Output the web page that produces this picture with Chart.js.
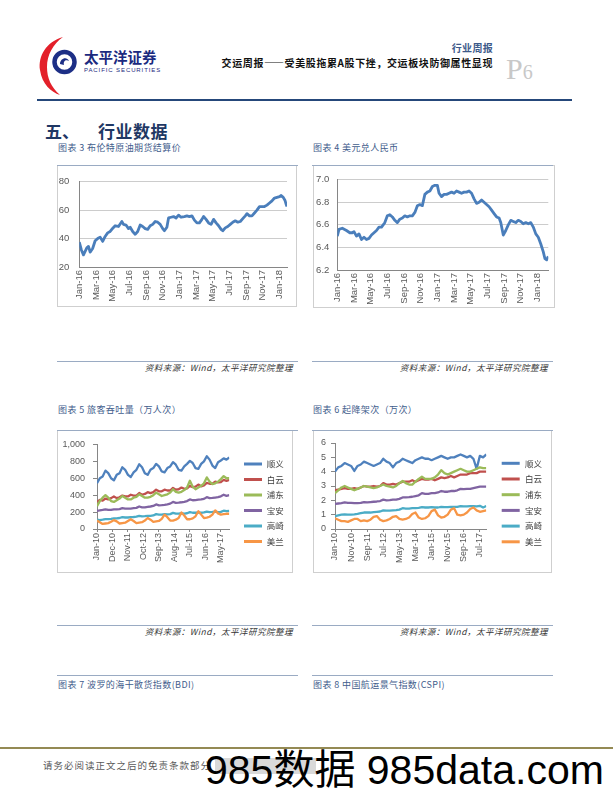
<!DOCTYPE html>
<html lang="zh-CN">
<head>
<meta charset="utf-8">
<title>交运周报 P6</title>
<script src="https://cdn.jsdelivr.net/npm/chart.js@4.4.1/dist/chart.umd.min.js"></script>
<style>
  html, body { margin: 0; padding: 0; background: #fff; }
  body { position: relative; width: 613px; height: 793px; overflow: hidden; font-family: "Noto Sans CJK SC", sans-serif; }
  .t { position: absolute; white-space: nowrap; line-height: 1; }
  .rule { position: absolute; height: 1px; background: #9aabc3; }
  .box { position: absolute; border: 1px solid #cfcfcf; box-sizing: border-box; }
  canvas { position: absolute; }
  .cap { font-size: 9px; color: #3f5d8c; letter-spacing: 0.4px; }
  .src { font-size: 8.5px; color: #333; font-style: italic; letter-spacing: 0.5px; }
</style>
</head>
<body>

<!-- header -->
<svg style="position:absolute;left:36px;top:34px" width="44" height="64" viewBox="0 0 44 64">
  <path d="M27 3 C10 8 2 22 4 36 C6 50 15 58 24 61 C15 53 11 44 11 33 C11 21 17 10 27 3 Z" fill="#e3202a"/>
  <circle cx="28.5" cy="28" r="10" fill="none" stroke="#1d2f86" stroke-width="4.5"/>
  <path d="M24 30 C24 24 31 22 33 27 C30 25 27 27 28 31 Z" fill="#1d2f86"/>
</svg>
<div class="t" style="left:84px;top:50px;font-size:14.5px;font-weight:bold;color:#1b2a80;">太平洋证券</div>
<div class="t" style="left:84px;top:67px;font-size:6px;letter-spacing:0.9px;color:#1b2a80;font-family:'Liberation Sans',Arial,sans-serif;">PACIFIC SECURITIES</div>

<div class="t" style="right:120px;top:43px;font-size:10px;color:#3d5a8a;font-weight:bold;letter-spacing:0.3px;">行业周报</div>
<div class="t" style="right:120px;top:58px;font-size:10px;color:#111;font-weight:bold;letter-spacing:0.6px;">交运周报——受美股拖累A股下挫，交运板块防御属性显现</div>
<div class="t" style="left:506px;top:54px;font-family:'Liberation Serif',serif;color:#c8c8c8;"><span style="font-size:30px;">P</span><span style="font-size:20px;">6</span></div>
<div style="position:absolute;left:37px;top:99px;width:535px;height:2px;background:#25477a;"></div>

<!-- section heading -->
<div class="t" style="left:45px;top:121.5px;font-size:17px;font-weight:bold;color:#1f3864;">五、</div>
<div class="t" style="left:98px;top:121.5px;font-size:17px;font-weight:bold;color:#1f3864;letter-spacing:0.5px;">行业数据</div>

<!-- row 1 -->
<div class="t cap" style="left:58px;top:142.5px;">图表 3 布伦特原油期货结算价</div>
<div class="t cap" style="left:313px;top:142.5px;">图表 4 美元兑人民币</div>
<div class="box" style="left:57px;top:165px;width:240px;height:142px;"></div>
<div class="box" style="left:313px;top:165px;width:242px;height:143px;"></div>
<div class="rule" style="left:57px;top:165px;width:241px;"></div>
<div class="rule" style="left:312px;top:165px;width:241px;"></div>
<canvas id="c3" width="238" height="140" style="left:58px;top:166px;"></canvas>
<canvas id="c4" width="240" height="141" style="left:314px;top:166px;"></canvas>

<div class="rule" style="left:57px;top:361px;width:241px;"></div>
<div class="rule" style="left:312px;top:361px;width:241px;"></div>
<div class="t src" style="right:320px;top:362.75px;">资料来源：Wind，太平洋研究院整理</div>
<div class="t src" style="right:65px;top:362.75px;">资料来源：Wind，太平洋研究院整理</div>

<!-- row 2 -->
<div class="t cap" style="left:58px;top:404.5px;">图表 5 旅客吞吐量（万人次）</div>
<div class="t cap" style="left:313px;top:404.5px;">图表 6 起降架次（万次）</div>
<div class="box" style="left:57px;top:430px;width:236px;height:143px;"></div>
<div class="box" style="left:313px;top:430px;width:239px;height:143px;"></div>
<div class="rule" style="left:57px;top:430px;width:241px;"></div>
<div class="rule" style="left:312px;top:430px;width:241px;"></div>
<canvas id="c5" width="234" height="141" style="left:58px;top:431px;"></canvas>
<canvas id="c6" width="237" height="141" style="left:314px;top:431px;"></canvas>

<div class="rule" style="left:57px;top:625px;width:241px;"></div>
<div class="rule" style="left:312px;top:625px;width:241px;"></div>
<div class="t src" style="right:320px;top:626.75px;">资料来源：Wind，太平洋研究院整理</div>
<div class="t src" style="right:65px;top:626.75px;">资料来源：Wind，太平洋研究院整理</div>

<!-- row 3 captions -->
<div class="rule" style="left:57px;top:675px;width:241px;"></div>
<div class="rule" style="left:312px;top:675px;width:241px;"></div>
<div class="t cap" style="left:58px;top:679.5px;">图表 7 波罗的海干散货指数(BDI)</div>
<div class="t cap" style="left:313px;top:679.5px;">图表 8 中国航运景气指数(CSPI)</div>

<!-- footer -->
<div style="position:absolute;left:0;top:747px;width:613px;height:2px;background:#948a54;"></div>
<div class="t" style="left:43px;top:761.25px;font-size:9.5px;color:#595959;letter-spacing:1px;">请务必阅读正文之后的免责条款部分</div>
<div style="position:absolute;left:215px;top:758px;width:101px;height:16px;background:#d9d9d9;"></div>
<div class="t" style="left:205px;top:750px;font-size:41px;color:#000;font-family:'Liberation Sans',Arial,'Noto Sans CJK SC',sans-serif;">985数据 985data.com</div>

<script>
// ---- data ----
// x positions are months since Jan-16 (charts 3 & 4) or Jan-10 (charts 5 & 6)
const dateTickMonths = [0, 2, 4, 6, 8, 10, 12, 14, 16, 18, 20, 22, 24];
const dateTickLabels = ['Jan-16', 'Mar-16', 'May-16', 'Jul-16', 'Sep-16', 'Nov-16', 'Jan-17',
    'Mar-17', 'May-17', 'Jul-17', 'Sep-17', 'Nov-17', 'Jan-18'];

// 图表3 布伦特原油期货结算价
const oilMonths = [0, 0.25, 0.5, 0.7, 0.9, 1.1, 1.3, 1.6, 1.9, 2.2, 2.5, 2.8, 3.1, 3.4, 3.7, 3.9,
    4.3, 4.7, 5.1, 5.3, 5.6, 5.9, 6.1, 6.4, 6.7, 7.0, 7.3, 7.6, 7.9, 8.2, 8.5, 8.8, 9.1, 9.4, 9.7,
    10.0, 10.2, 10.5, 10.7, 11.0, 11.3, 11.6, 11.9, 12.2, 12.6, 12.9, 13.2, 13.5, 13.8, 14.1, 14.4,
    14.7, 14.9, 15.2, 15.5, 15.8, 16.1, 16.4, 16.7, 17.0, 17.2, 17.5, 17.8, 18.1, 18.4, 18.7, 19.0,
    19.3, 19.6, 19.9, 20.1, 20.4, 20.7, 21.0, 21.3, 21.6, 21.9, 22.2, 22.5, 22.8, 23.1, 23.4, 23.7,
    24.0, 24.2, 24.45, 24.65, 24.8, 24.9];
const oilPrice = [37.5, 32, 28.5, 31, 33.5, 34.5, 30.5, 33, 38.5, 40, 41, 38, 41.5, 44, 45, 46.5,
    49, 48.5, 52, 50, 49.5, 47, 48, 45, 43, 45, 49.5, 48.5, 47, 46.5, 49, 50, 52, 51.5, 50,
    47, 45.5, 48, 54.5, 55, 55.5, 54.5, 56.5, 55, 55.5, 56, 55.5, 56, 53, 51, 51,
    53.5, 55.5, 53.5, 51, 50, 53.5, 51, 49, 46.5, 45.5, 47.5, 48.5, 50, 51.5, 52.5, 51.5,
    52, 54, 56, 57.5, 56, 56, 58, 60, 62.5, 62.5, 62.5, 63.5, 65, 66.5, 68.5, 69,
    69.5, 70.3, 69, 67, 64, 62.5];

// 图表4 美元兑人民币
const fxMonths = [0, 0.2, 0.6, 1.1, 1.5, 1.8, 2.0, 2.3, 2.6, 2.9, 3.2, 3.5, 3.8, 4.1, 4.4, 4.7,
    5.0, 5.3, 5.7, 6.0, 6.3, 6.6, 6.9, 7.2, 7.5, 7.8, 8.1, 8.4, 8.7, 9.0, 9.3, 9.6, 9.9, 10.2,
    10.5, 10.8, 11.1, 11.4, 11.7, 12.0, 12.2, 12.5, 12.8, 13.1, 13.4, 13.7, 14.0, 14.3, 14.6,
    14.9, 15.2, 15.5, 15.8, 16.1, 16.4, 16.7, 17.0, 17.3, 17.6, 17.9, 18.2, 18.5, 18.8, 19.1,
    19.4, 19.6, 19.9, 20.2, 20.5, 20.8, 21.1, 21.4, 21.7, 22.0, 22.3, 22.6, 22.9, 23.2, 23.5,
    23.8, 24.1, 24.4, 24.7, 24.9, 25.1, 25.3];
const fxRate = [6.50, 6.56, 6.57, 6.55, 6.53, 6.53, 6.54, 6.50, 6.52, 6.47, 6.49, 6.47, 6.48, 6.51, 6.53, 6.55,
    6.58, 6.58, 6.62, 6.68, 6.69, 6.67, 6.64, 6.62, 6.65, 6.66, 6.68, 6.67, 6.68, 6.68, 6.71, 6.77, 6.78, 6.77,
    6.87, 6.89, 6.90, 6.94, 6.95, 6.95, 6.88, 6.85, 6.87, 6.87, 6.88, 6.89, 6.88, 6.90, 6.89,
    6.88, 6.89, 6.89, 6.90, 6.88, 6.83, 6.79, 6.80, 6.82, 6.80, 6.78, 6.76, 6.73, 6.70, 6.67,
    6.66, 6.62, 6.51, 6.55, 6.60, 6.64, 6.63, 6.62, 6.64, 6.63, 6.61, 6.62, 6.61, 6.62, 6.58,
    6.52, 6.49, 6.43, 6.36, 6.30, 6.29, 6.32];

// 图表5/6: one reading every two months, Jan-10 .. Nov-17
const airportMonths = [0, 2, 4, 6, 8, 10, 12, 14, 16, 18, 20, 22, 24, 26, 28, 30, 32, 34, 36, 38, 40, 42, 44, 46,
    48, 50, 52, 54, 56, 58, 60, 62, 64, 66, 68, 70, 72, 74, 76, 78, 80, 82, 84, 86, 88, 90, 92, 94];
const airportNames = ['顺义', '白云', '浦东', '宝安', '高崎', '美兰'];

const paxTickMonths = [0, 11, 22, 33, 44, 55, 66, 77, 88];
const paxTickLabels = ['Jan-10', 'Dec-10', 'Nov-11', 'Oct-12', 'Sep-13', 'Aug-14', 'Jul-15', 'Jun-16', 'May-17'];
const paxShunyi = [540, 600, 620, 690, 660, 600, 575, 640, 660, 730, 700, 640, 615, 670, 700, 765, 730, 660,
    640, 700, 720, 770, 740, 680, 670, 720, 740, 790, 760, 700, 690, 740, 770, 805, 780, 720,
    710, 770, 800, 860, 820, 750, 720, 790, 810, 835, 820, 845];
const paxBaiyun = [320, 345, 335, 360, 350, 365, 385, 365, 375, 395, 385, 385, 405, 395, 395, 425, 405, 415,
    435, 425, 435, 465, 445, 445, 465, 455, 455, 485, 465, 470, 490, 475, 480, 510, 495, 500,
    525, 505, 515, 545, 535, 535, 560, 550, 555, 580, 570, 580];
const paxPudong = [270, 330, 370, 400, 370, 330, 320, 340, 360, 390, 370, 350, 350, 370, 380, 410, 390, 370,
    370, 380, 400, 430, 410, 390, 400, 410, 430, 470, 440, 430, 440, 460, 490, 570, 500, 470,
    490, 510, 540, 610, 560, 530, 540, 560, 590, 625, 600, 600];
const paxBaoan = [215, 220, 225, 232, 226, 226, 232, 232, 236, 246, 240, 242, 242, 246, 250, 266, 256, 256,
    262, 266, 272, 290, 280, 282, 286, 292, 300, 320, 310, 312, 316, 322, 330, 350, 340, 342,
    346, 350, 356, 376, 366, 368, 372, 376, 386, 405, 392, 400];
const paxGaoqi = [110, 106, 110, 116, 116, 120, 126, 126, 130, 140, 136, 136, 140, 142, 146, 156, 150, 152,
    156, 156, 160, 176, 170, 170, 176, 172, 176, 190, 182, 182, 186, 182, 186, 200, 192, 192,
    196, 192, 196, 206, 200, 202, 206, 200, 202, 216, 210, 215];
const paxMeilan = [100, 80, 60, 65, 70, 85, 105, 90, 65, 70, 75, 95, 115, 95, 70, 75, 80, 100,
    130, 110, 85, 90, 95, 120, 170, 140, 100, 100, 110, 130, 195, 160, 115, 115, 125, 150,
    210, 170, 130, 135, 145, 170, 220, 185, 170, 175, 180, 180];

const movTickMonths = [0, 10, 20, 30, 40, 50, 60, 70, 80, 90];
const movTickLabels = ['Jan-10', 'Nov-10', 'Sep-11', 'Jul-12', 'May-13', 'Mar-14', 'Jan-15', 'Nov-15', 'Sep-16', 'Jul-17'];
const movShunyi = [4.0, 4.3, 4.4, 4.6, 4.5, 4.4, 4.05, 4.4, 4.5, 4.7, 4.6, 4.5, 4.4, 4.5, 4.6, 4.9, 4.7, 4.6,
    4.3, 4.6, 4.7, 4.9, 4.8, 4.7, 4.6, 4.8, 4.9, 5.0, 4.9, 4.9, 4.8, 4.9, 5.0, 5.1, 5.0, 4.9,
    5.0, 5.0, 5.1, 5.2, 5.1, 5.0, 5.1, 4.9, 4.2, 5.1, 5.0, 5.2];
const movBaiyun = [2.7, 2.75, 2.8, 2.85, 2.8, 2.8, 2.85, 2.8, 2.9, 3.0, 2.95, 2.95, 3.0, 2.95, 3.0, 3.2, 3.1, 3.1,
    3.15, 3.1, 3.2, 3.3, 3.3, 3.3, 3.4, 3.3, 3.4, 3.5, 3.45, 3.45, 3.5, 3.4, 3.5, 3.6, 3.55, 3.6,
    3.7, 3.6, 3.7, 3.8, 3.8, 3.8, 3.9, 3.9, 3.9, 4.0, 4.0, 4.0];
const movPudong = [2.5, 2.7, 2.9, 3.0, 2.9, 2.8, 2.7, 2.8, 2.9, 3.0, 2.95, 2.9, 2.85, 2.9, 3.0, 3.1, 3.0, 2.95,
    2.9, 3.0, 3.2, 3.35, 3.2, 3.1, 3.1, 3.3, 3.5, 3.65, 3.5, 3.5, 3.5, 3.6, 3.8, 4.1, 3.9, 3.8,
    3.9, 4.0, 4.1, 4.2, 4.1, 4.0, 4.0, 4.1, 4.2, 4.3, 4.25, 4.25];
const movBaoan = [1.75, 1.78, 1.8, 1.85, 1.82, 1.82, 1.8, 1.8, 1.82, 1.88, 1.86, 1.88, 1.9, 1.92, 1.95, 2.05, 2.0, 2.02,
    2.05, 2.05, 2.1, 2.2, 2.2, 2.22, 2.25, 2.3, 2.35, 2.5, 2.45, 2.45, 2.5, 2.5, 2.55, 2.65, 2.6, 2.6,
    2.65, 2.65, 2.7, 2.8, 2.78, 2.8, 2.8, 2.85, 2.9, 2.95, 2.95, 2.95];
const movGaoqi = [0.9, 0.95, 1.0, 1.02, 1.0, 1.0, 1.02, 1.05, 1.1, 1.15, 1.15, 1.15, 1.18, 1.2, 1.22, 1.3, 1.28, 1.28,
    1.3, 1.32, 1.35, 1.45, 1.42, 1.42, 1.45, 1.45, 1.48, 1.52, 1.5, 1.5, 1.52, 1.5, 1.5, 1.55, 1.52, 1.52,
    1.55, 1.55, 1.55, 1.6, 1.58, 1.58, 1.6, 1.6, 1.58, 1.62, 1.5, 1.6];
const movMeilan = [0.75, 0.65, 0.55, 0.55, 0.5, 0.6, 0.7, 0.7, 0.55, 0.6, 0.55, 0.65, 0.85, 0.9, 0.65, 0.55, 0.6, 0.7,
    0.85, 0.9, 0.7, 0.65, 0.7, 0.8, 1.05, 1.15, 0.8, 0.7, 0.75, 0.9, 1.25, 1.35, 0.95, 0.8, 0.85, 1.0,
    1.35, 1.45, 1.0, 0.95, 1.0, 1.15, 1.4, 1.5, 1.3, 1.2, 1.25, 1.3];

// ---- styling ----
const airportColors = ['#4f81bd', '#c0504d', '#9bbb59', '#8064a2', '#4bacc6', '#f79646'];
const tickColor = '#595959';
const axisColor = '#868686';
const latin = '"Liberation Sans", Arial, sans-serif';

function pairs(xs, ys) {
    return xs.map((x, i) => ({ x: x, y: ys[i] }));
}

// legend drawn on the right side of the canvas, like the Excel original
const sideLegend = {
    id: 'sideLegend',
    afterDraw(chart, args, opts) {
        if (!opts.x) return;
        const ctx = chart.ctx;
        ctx.save();
        ctx.font = '8.5px "Noto Sans CJK SC"';
        ctx.textBaseline = 'middle';
        chart.data.datasets.forEach((ds, i) => {
            const y = opts.y + i * opts.gap;
            ctx.strokeStyle = ds.borderColor;
            ctx.lineWidth = 3;
            ctx.beginPath();
            ctx.moveTo(opts.x, y);
            ctx.lineTo(opts.x + 18, y);
            ctx.stroke();
            ctx.fillStyle = '#404040';
            ctx.fillText(ds.label, opts.textX, y);
        });
        ctx.restore();
    }
};

function xScale(tickMonths, tickLabels, max, height, marks, size) {
    return {
        type: 'linear',
        min: 0,
        max: max,
        grid: { drawOnChartArea: false, drawTicks: marks, tickLength: 3, color: axisColor },
        border: { color: axisColor },
        ticks: {
            font: { family: latin, size: size },
            color: tickColor,
            minRotation: 90,
            maxRotation: 90,
            autoSkip: false,
            padding: marks ? 1 : 3,
            callback: (v, i) => tickLabels[i]
        },
        afterBuildTicks: s => { s.ticks = tickMonths.map(v => ({ value: v })); },
        afterFit: s => { s.height = height; }
    };
}

function yScale(min, max, step, width, gridOn, pad, size, fmt) {
    return {
        min: min,
        max: max,
        grid: gridOn
            ? { color: '#cccccc', drawTicks: false }
            : { drawOnChartArea: false, drawTicks: true, tickLength: 4, color: axisColor },
        border: { color: axisColor },
        ticks: {
            stepSize: step,
            font: { family: latin, size: size },
            color: tickColor,
            padding: pad,
            callback: fmt
        },
        afterFit: s => { s.width = width; }
    };
}

function makeChart(id, datasets, padding, scales, legendOpts) {
    return new Chart(document.getElementById(id), {
        type: 'line',
        data: { datasets: datasets },
        options: {
            responsive: false,
            animation: false,
            parsing: false,
            layout: { padding: padding },
            elements: { point: { radius: 0 }, line: { tension: 0, borderJoinStyle: 'round' } },
            plugins: { legend: { display: false }, tooltip: { enabled: false }, sideLegend: legendOpts || {} },
            scales: scales
        },
        plugins: [sideLegend]
    });
}

// 图表3
makeChart('c3',
    [{ label: '布伦特原油', data: pairs(oilMonths, oilPrice), borderColor: '#4a7ebb', borderWidth: 2.8 }],
    { top: 10, right: 9, bottom: 0, left: 0 },
    {
        x: xScale(dateTickMonths, dateTickLabels, 24.9, 39, false, 9.5),
        y: yScale(20, 80, 10, 21.3, true, 10, 9.5, v => v)
    });

// 图表4
makeChart('c4',
    [{ label: '美元兑人民币', data: pairs(fxMonths, fxRate), borderColor: '#4a7ebb', borderWidth: 2.8 }],
    { top: 10, right: 5.7, bottom: 0, left: 0 },
    {
        x: xScale(dateTickMonths, dateTickLabels, 25.3, 37, false, 9.5),
        y: yScale(6.2, 7.0, 0.2, 23.3, true, 8, 9.5, v => Number(v).toFixed(1))
    });

function airportSets(series) {
    return series.map((vals, i) => ({
        label: airportNames[i],
        data: pairs(airportMonths, vals),
        borderColor: airportColors[i],
        borderWidth: 2.3,
        order: series.length - i
    }));
}

// 图表5
makeChart('c5',
    airportSets([paxShunyi, paxBaiyun, paxPudong, paxBaoan, paxGaoqi, paxMeilan]),
    { top: 12, right: 62.7, bottom: 0, left: 0 },
    {
        x: xScale(paxTickMonths, paxTickLabels, 94, 43, true, 9),
        y: yScale(0, 1000, 200, 39, false, 8, 9, v => Number(v).toLocaleString('en-US'))
    },
    { x: 186, textX: 208.7, y: 33, gap: 15.5 });

// 图表6
makeChart('c6',
    airportSets([movShunyi, movBaiyun, movPudong, movBaoan, movGaoqi, movMeilan]),
    { top: 12, right: 64.7, bottom: 0, left: 0 },
    {
        x: xScale(movTickMonths, movTickLabels, 94, 43, true, 9),
        y: yScale(0, 6, 1, 21, false, 5, 9, v => v)
    },
    { x: 187.7, textX: 211, y: 32.3, gap: 15.7 });
</script>
</body>
</html>
